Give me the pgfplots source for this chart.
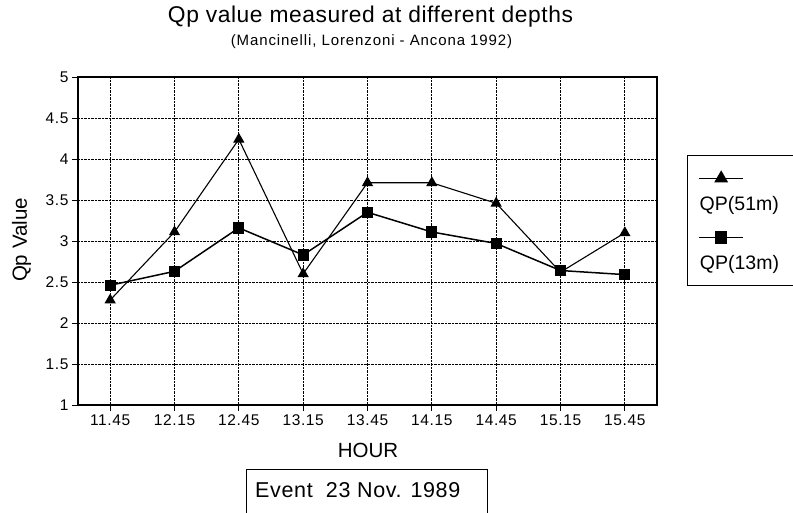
\documentclass[border=0pt]{standalone}
\usepackage{fontspec}
\setmainfont{Liberation Sans}
\usepackage{pgfplots}
\pgfplotsset{compat=1.18}
\newfontfamily\tickf[LetterSpace=4]{Liberation Sans}
\newfontfamily\titlef[LetterSpace=2.5]{Liberation Sans}
\newfontfamily\subf[LetterSpace=6]{Liberation Sans}
\newfontfamily\eventf[LetterSpace=3]{Liberation Sans}
\newcommand\tickfont{\tickf\fontsize{15.5}{18}\selectfont}
\newcommand\titlefont{\titlef\fontsize{22.8}{26}\selectfont}
\newcommand\subfont{\subf\fontsize{15}{18}\selectfont}
\newcommand\eventfont{\eventf\fontsize{21.5}{24}\selectfont}
\newcommand\labfont{\fontsize{20.5}{24}\selectfont}
\newcommand\legfont{\fontsize{19.5}{22}\selectfont}

\pgfplotstableread{
x q51 q13
0 2.28 2.46
1 3.11 2.63
2 4.24 3.16
3 2.60 2.83
4 3.71 3.35
5 3.71 3.11
6 3.46 2.97
7 2.62 2.64
8 3.10 2.59
}\qpdata

\begin{document}
\begin{tikzpicture}[x=1pt,y=1pt]
\useasboundingbox (0,0) rectangle (793,513);
\clip (0,0) rectangle (793,513);
\begin{axis}[
  at={(78pt,108pt)}, anchor=south west,
  scale only axis, width=579pt, height=328pt,
  xmin=-0.5, xmax=8.5, ymin=1, ymax=5,
  xtick={0,1,2,3,4,5,6,7,8},
  xticklabels={11.45,12.15,12.45,13.15,13.45,14.15,14.45,15.15,15.45},
  ytick={1,1.5,2,2.5,3,3.5,4,4.5,5},
  tick pos=left,
  grid=major,
  major grid style={black, densely dotted, line width=0.75pt},
  axis line style={black, line width=1.3pt},
  tick align=outside, major tick length=6pt,
  tick style={black, line width=0.9pt},
  ticklabel style={font=\tickfont},
  /pgf/number format/assume math mode=true,
  legend style={at={(1.0518,0.7622)}, anchor=north west, draw=black,
    line width=0.9pt, inner sep=11pt, row sep=10pt,
    nodes={inner sep=0pt}},
  legend cell align=left,
]
\addplot[black, line width=1.1pt, mark=triangle*, mark size=5.4pt,
  legend image code/.code={
    \draw[mark repeat=2, mark phase=2, mark size=7pt] plot coordinates {(0pt,0pt) (22pt,0pt) (44pt,0pt)};
    \path[draw=none, fill=none] (0pt,12pt) rectangle (115pt,-37pt);
    \node[draw=none, anchor=base west, inner sep=0pt, font=\legfont] at (0pt,-32pt) {QP(51m)};
  }] table[x=x, y=q51] {\qpdata};
\addlegendentry{}
\addplot[black, line width=1.5pt, mark=square*, mark size=4.9pt,
  legend image code/.code={
    \draw[mark repeat=2, mark phase=2, mark size=5.5pt] plot coordinates {(0pt,0pt) (22pt,0pt) (44pt,0pt)};
    \path[draw=none, fill=none] (0pt,12pt) rectangle (115pt,-37pt);
    \node[draw=none, anchor=base west, inner sep=0pt, font=\legfont] at (0pt,-32pt) {QP(13m)};
  }] table[x=x, y=q13] {\qpdata};
\addlegendentry{}
\end{axis}
\node[anchor=base, font=\titlefont] at (370.5,490.3) {Qp value measured at different depths};
\node[anchor=base, font=\subfont] at (371.5,467.3) {(Mancinelli, Lorenzoni - Ancona 1992)};
\node[anchor=base, font=\labfont] at (368,55) {HOUR};
\node[anchor=base, rotate=90, font=\labfont] at (27,273) {Qp Value};
\draw[line width=0.9pt] (246,-20) rectangle (487,44);
\node[anchor=base west, inner sep=0pt, font=\eventfont] at (255,15) {Event\ \ 23 Nov. 1989};
\end{tikzpicture}
\end{document}
